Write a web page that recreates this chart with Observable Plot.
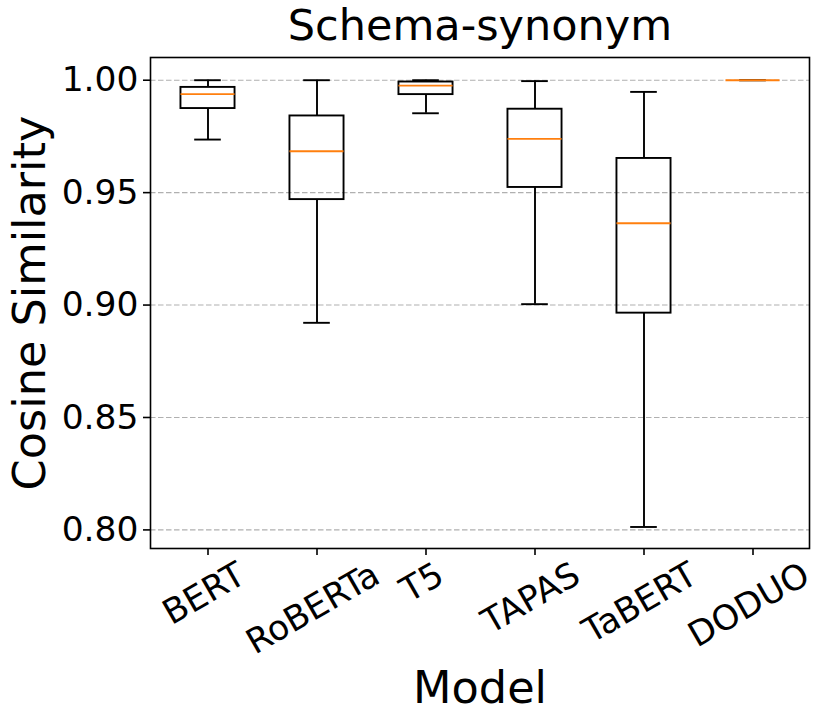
<!DOCTYPE html>
<html>
<head>
<meta charset="utf-8">
<script src="https://cdn.jsdelivr.net/npm/d3@7"></script>
<script src="https://cdn.jsdelivr.net/npm/@observablehq/plot@0.6"></script>
<style>
  html, body { margin: 0; padding: 0; background: #fff; }
  svg { font-family: "DejaVu Sans", sans-serif; }
</style>
</head>
<body>
<div id="chart"></div>
<script>
// ---- data ----
const models      = ["BERT", "RoBERTa", "T5", "TAPAS", "TaBERT", "DODUO"];
const whiskerLow  = [0.9736, 0.8921, 0.9853, 0.9004, 0.8013, 1.0000];
const quartile1   = [0.9874, 0.9469, 0.9936, 0.9523, 0.8964, 1.0000];
const medians     = [0.9938, 0.9684, 0.9976, 0.9739, 0.9364, 1.0000];
const quartile3   = [0.9968, 0.9841, 0.9992, 0.9871, 0.9652, 1.0000];
const whiskerHigh = [1.0000, 1.0000, 1.0000, 0.9996, 0.9948, 1.0000];
const yTicks      = [0.80, 0.85, 0.90, 0.95, 1.00];
const titleText   = "Schema-synonym";
const xLabel      = "Model";
const yLabel      = "Cosine Similarity";

const rows = models.map((m, i) => ({
  model: m, lo: whiskerLow[i], q1: quartile1[i], med: medians[i], q3: quartile3[i], hi: whiskerHigh[i]
}));

// ---- layout ----
const W = 831, H = 724;
const mL = 150, mR = 22, mT = 57, mB = 176;
const step = (W - mL - mR) / models.length;
const boxInset = step * 0.25;
const capInset = step * 0.375;

const tickFont = 34.5, titleFont = 43, labelFont = 44.6;

// measure tick label widths for matplotlib-like rotated centering
const ctx = document.createElement("canvas").getContext("2d");
ctx.font = `${tickFont}px "DejaVu Sans"`;
const rot = 30 * Math.PI / 180;

const xLabelMarks = models.map(m => {
  const w = ctx.measureText(m).width;
  const off = 23.5 + w * Math.sin(rot) / 2;
  return Plot.text([m], {
    x: d => d, frameAnchor: "bottom", text: d => d,
    rotate: -30, textAnchor: "middle", lineAnchor: "middle",
    dx: -4, dy: off, fontSize: tickFont, fill: "black"
  });
});

const chart = Plot.plot({
  width: W, height: H,
  marginLeft: mL, marginRight: mR, marginTop: mT, marginBottom: mB,
  x: { type: "band", domain: models, padding: 0, label: null },
  y: { domain: [0.79173, 1.0101], label: null },
  style: { fontFamily: "DejaVu Sans, sans-serif", background: "#fff" },
  marks: [
    Plot.gridY(yTicks, { stroke: "#b0b0b0", strokeOpacity: 1, strokeWidth: 1.1, strokeDasharray: "5.5,2.5" }),
    Plot.ruleX(rows, { x: "model", y1: "lo", y2: "q1", stroke: "black", strokeWidth: 1.9 }),
    Plot.ruleX(rows, { x: "model", y1: "q3", y2: "hi", stroke: "black", strokeWidth: 1.9 }),
    Plot.tickY(rows, { x: "model", y: "lo", stroke: "black", strokeWidth: 1.9, insetLeft: capInset, insetRight: capInset }),
    Plot.tickY(rows, { x: "model", y: "hi", stroke: "black", strokeWidth: 1.9, insetLeft: capInset, insetRight: capInset }),
    Plot.barY(rows, { x: "model", y1: "q1", y2: "q3", fill: "none", stroke: "black", strokeWidth: 1.9, insetLeft: boxInset, insetRight: boxInset }),
    Plot.tickY(rows, { x: "model", y: "med", stroke: "#ff7f0e", strokeWidth: 1.9, insetLeft: boxInset, insetRight: boxInset }),
    Plot.frame({ stroke: "black", strokeWidth: 1.6 }),
    Plot.axisY(yTicks, { tickFormat: d3.format(".2f"), tickSize: 7, tickPadding: 5, fontSize: tickFont, strokeWidth: 1.6, fill: "black", label: null }),
    Plot.axisX({ tickSize: 7, tickFormat: () => "", strokeWidth: 1.6, label: null }),
    ...xLabelMarks,
    Plot.text([titleText], { frameAnchor: "top", text: d => d, dy: -31, fontSize: titleFont, textAnchor: "middle", lineAnchor: "middle", fill: "black" }),
    Plot.text([xLabel], { frameAnchor: "bottom", text: d => d, dy: 140.4, fontSize: labelFont, textAnchor: "middle", lineAnchor: "middle", fill: "black" }),
    Plot.text([yLabel], { frameAnchor: "left", text: d => d, dx: -120, rotate: -90, fontSize: labelFont, textAnchor: "middle", lineAnchor: "middle", fill: "black" })
  ]
});
document.getElementById("chart").appendChild(chart);
</script>
</body>
</html>
